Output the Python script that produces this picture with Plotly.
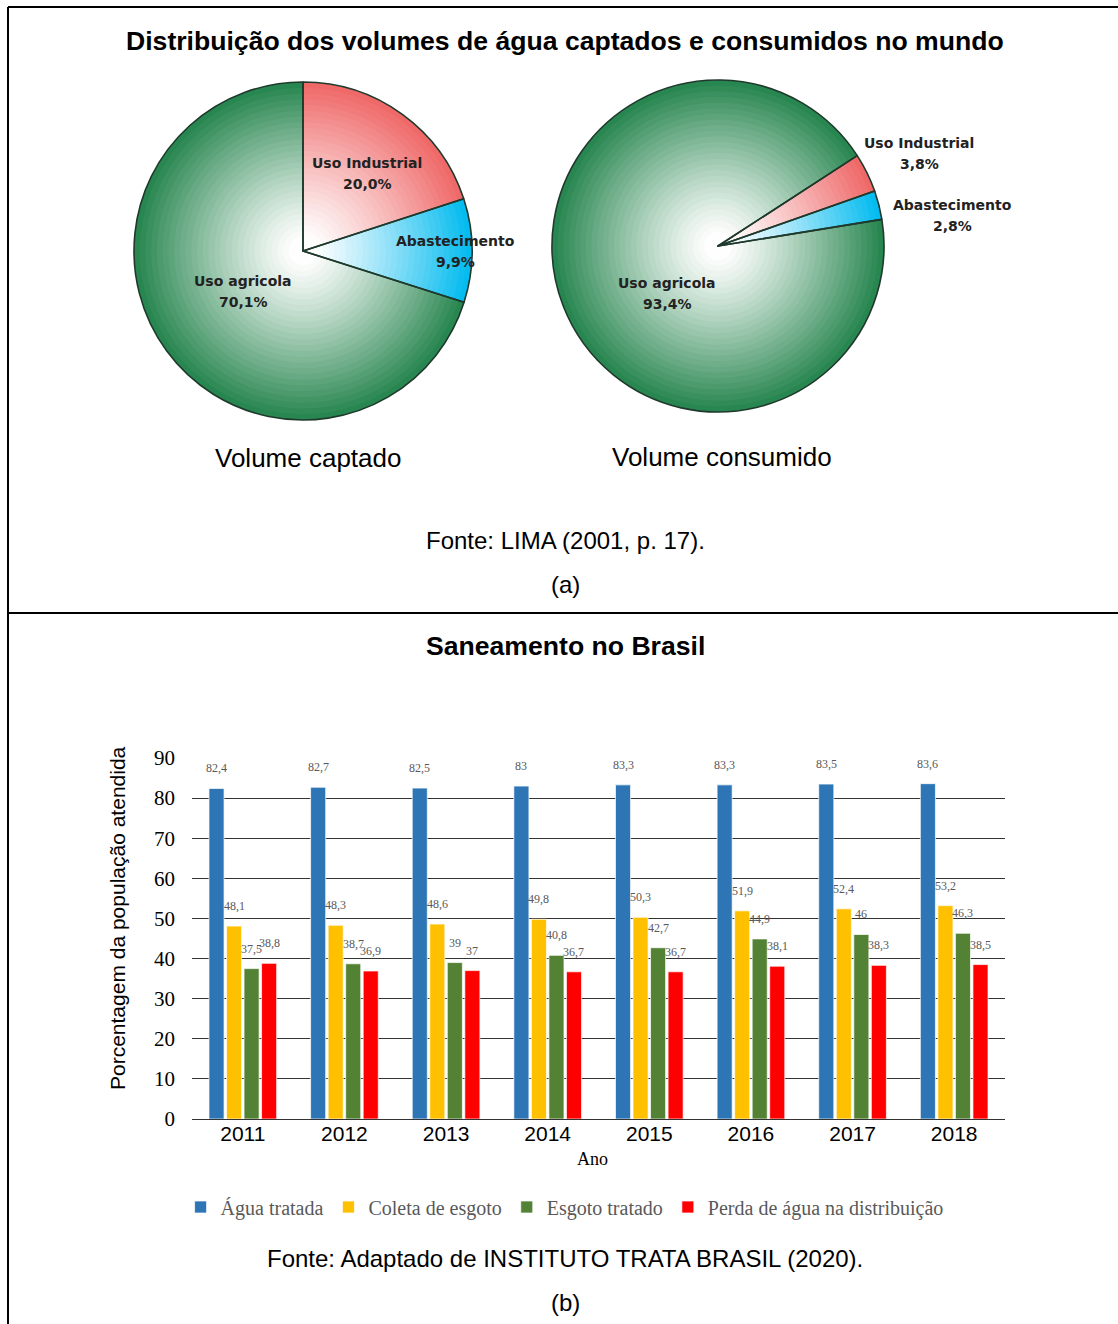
import plotly.graph_objects as go

W, H = 1118, 1324

# ---------------- data ----------------
pie_labels = ["Uso Industrial", "Abastecimento", "Uso agricola"]
captado_values = [20.0, 9.9, 70.1]
consumido_values = [3.8, 2.8, 93.4]

years = ["2011", "2012", "2013", "2014", "2015", "2016", "2017", "2018"]
agua_tratada = [82.4, 82.7, 82.5, 83.0, 83.3, 83.3, 83.5, 83.6]
coleta_esgoto = [48.1, 48.3, 48.6, 49.8, 50.3, 51.9, 52.4, 53.2]
esgoto_tratado = [37.5, 38.7, 39.0, 40.8, 42.7, 44.9, 46.0, 46.3]
perda_agua = [38.8, 36.9, 37.0, 36.7, 36.7, 38.1, 38.3, 38.5]
series_names = ["Água tratada", "Coleta de esgoto", "Esgoto tratado",
                "Perda de água na distribuição"]

# ---------------- styles ----------------
SANS = "Arial, 'Liberation Sans', sans-serif"
SERIF = "'Times New Roman', 'Liberation Serif', serif"
PIEF = "'DejaVu Sans', Verdana, sans-serif"
bar_colors = ["#2E75B6", "#FFC000", "#548235", "#FF0000"]
pie_base = [(240, 105, 105), (5, 188, 240), (40, 134, 80)]


def px(x):
    return x / W


def py(y):
    return 1 - y / H


def fmt(v, dec=None):
    if dec is None and float(v).is_integer():
        return str(int(v))
    return ("%.1f" % v).replace(".", ",")


fig = go.Figure()


def add_pie(values, cx, cy, r, rotation):
    n = 28
    for k in range(n):
        f = 1 - 0.95 * k / n
        s = max(0.0, min(1.0, (f - 0.08) / 0.92)) ** 1.15
        cols = ["rgb(%d,%d,%d)" % tuple(int(255 * (1 - s) + c * s) for c in base)
                for base in pie_base]
        rr = r * f
        fig.add_trace(go.Pie(
            labels=pie_labels, values=values, sort=False, direction="clockwise",
            rotation=rotation, textinfo="none", hoverinfo="skip", showlegend=False,
            marker=dict(colors=cols, line=dict(width=0)),
            domain=dict(x=[px(cx - rr), px(cx + rr)], y=[py(cy + rr), py(cy - rr)])))
    fig.add_trace(go.Pie(
        labels=pie_labels, values=values, sort=False, direction="clockwise",
        rotation=rotation, textinfo="none", hoverinfo="label+percent", showlegend=False,
        marker=dict(colors=["rgba(0,0,0,0)"] * 3, line=dict(color="#1f3a2c", width=1.6)),
        domain=dict(x=[px(cx - r), px(cx + r)], y=[py(cy + r), py(cy - r)])))


add_pie(captado_values, 303, 251, 169, 0)
add_pie(consumido_values, 718, 246, 166, 57)

# ---------------- bars ----------------
all_series = [agua_tratada, coleta_esgoto, esgoto_tratado, perda_agua]
for name, vals, col in zip(series_names, all_series, bar_colors):
    fig.add_trace(go.Bar(x=years, y=vals, name=name,
                         marker=dict(color=col, line=dict(color="rgba(255,255,255,0.7)", width=1)),
                         hovertemplate="%{x}: %{y}<extra>" + name + "</extra>"))

annotations = []
bargap = 0.31
slot = (1 - bargap) / 4
for j, vals in enumerate(all_series):
    for i, v in enumerate(vals):
        annotations.append(dict(
            x=i - (1 - bargap) / 2 + (j + 0.5) * slot, y=v, xref="x", yref="y",
            text=fmt(v), showarrow=False, yanchor="middle", yshift=20,
            font=dict(family=SERIF, size=12, color="#595959")))

# pie labels (label line + value line)
pie_label_pos = [
    (0, captado_values, 367, 163),
    (1, captado_values, 455, 241),
    (2, captado_values, 243, 281),
    (0, consumido_values, 919, 143),
    (1, consumido_values, 952, 205),
    (2, consumido_values, 667, 283),
]
for idx, vals, x, y in pie_label_pos:
    annotations.append(dict(x=px(x), y=py(y), xref="paper", yref="paper",
                            text="<b>%s</b>" % pie_labels[idx], showarrow=False,
                            xanchor="center", yanchor="middle",
                            font=dict(family=PIEF, size=14, color="#222")))
    annotations.append(dict(x=px(x), y=py(y + 21), xref="paper", yref="paper",
                            text="<b>%s%%</b>" % fmt(vals[idx], dec=1),
                            showarrow=False, xanchor="center", yanchor="middle",
                            font=dict(family=PIEF, size=14, color="#222")))


def txt(t, x, y, size, family=SANS, color="#000", bold=False, angle=0):
    annotations.append(dict(x=px(x), y=py(y), xref="paper", yref="paper",
                            text=("<b>%s</b>" % t) if bold else t, showarrow=False,
                            xanchor="center", yanchor="middle", textangle=angle,
                            font=dict(family=family, size=size, color=color)))


txt("Distribuição dos volumes de água captados e consumidos no mundo", 565, 41, 26.6, bold=True)
txt("Volume captado", 308, 458, 26)
txt("Volume consumido", 722, 457, 26)
txt("Fonte: LIMA (2001, p. 17).", 565, 540, 24)
txt("(a)", 565, 584, 24)
txt("Saneamento no Brasil", 565, 646, 26.6, bold=True)
txt("Porcentagem da população atendida", 117, 918, 21, angle=-90)
txt("Ano", 592, 1159, 18, family=SERIF)
txt("Fonte: Adaptado de INSTITUTO TRATA BRASIL (2020).", 565, 1258, 24)
txt("(b)", 565, 1302, 24)

shapes = [
    dict(type="line", xref="paper", yref="paper", x0=px(8), x1=1, y0=py(7), y1=py(7),
         line=dict(color="#000", width=2)),
    dict(type="line", xref="paper", yref="paper", x0=px(8), x1=px(8), y0=py(7), y1=0,
         line=dict(color="#000", width=2)),
    dict(type="line", xref="paper", yref="paper", x0=px(8), x1=1, y0=py(613), y1=py(613),
         line=dict(color="#000", width=2)),
]

fig.update_layout(
    width=W, height=H, margin=dict(l=0, r=0, t=0, b=0, autoexpand=False),
    paper_bgcolor="white", plot_bgcolor="white",
    barmode="group", bargap=bargap, bargroupgap=0.14,
    annotations=annotations, shapes=shapes,
    xaxis=dict(type="category", domain=[px(192), px(1005)], range=[-0.5, 7.5],
               showgrid=False, showline=False, zeroline=False, ticks="",
               tickfont=dict(family=SANS, size=21, color="#000"), fixedrange=True),
    yaxis=dict(domain=[py(1119), py(758)], range=[0, 90], dtick=10,
               showgrid=True, gridcolor="#333333", gridwidth=1.4,
               zeroline=True, zerolinecolor="#333333", zerolinewidth=1.4,
               showline=False, ticks="", ticklabelstandoff=16,
               tickfont=dict(family=SERIF, size=21, color="#000"), fixedrange=True),
    legend=dict(orientation="h", x=0.505, xanchor="center", y=py(1207), yanchor="middle",
                font=dict(family=SERIF, size=20, color="#595959"), bgcolor="rgba(0,0,0,0)"),
    showlegend=True,
)

fig.write_html("out.html")
